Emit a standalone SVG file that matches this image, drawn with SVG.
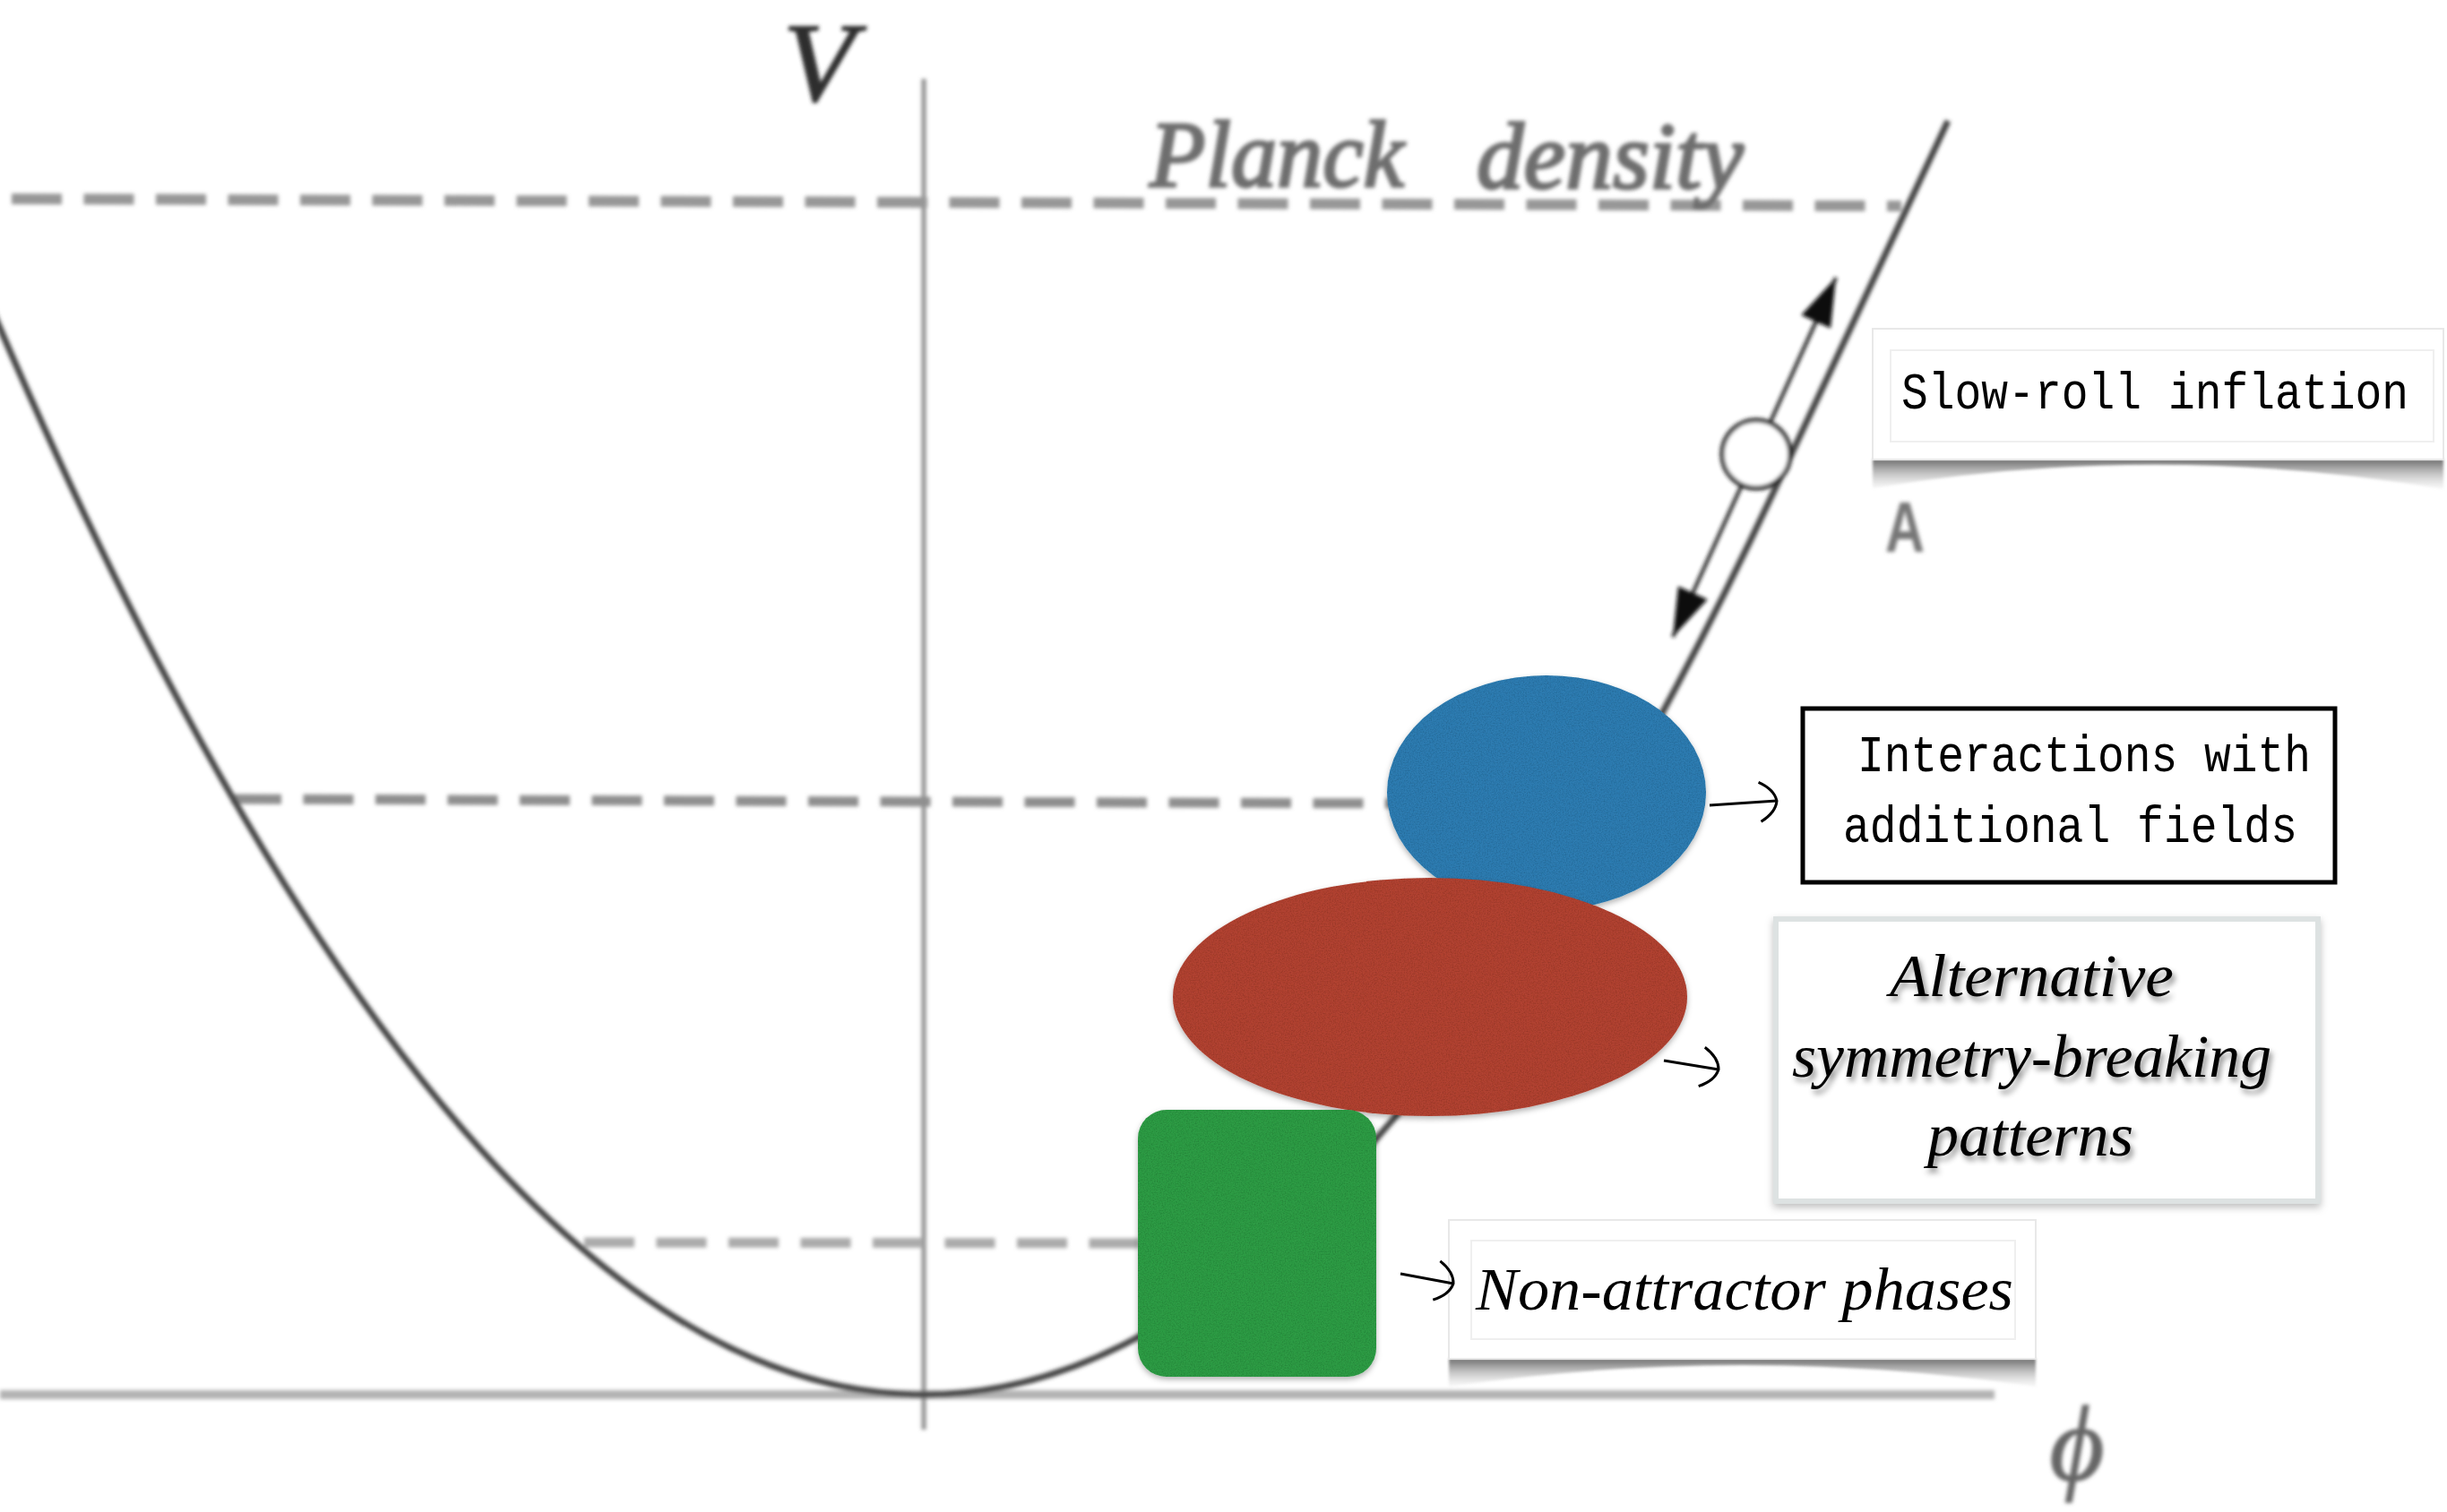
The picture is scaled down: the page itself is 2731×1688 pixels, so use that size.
<svg xmlns="http://www.w3.org/2000/svg" width="2731" height="1688" viewBox="0 0 2731 1688">
<defs>
<style>
.mono{font-family:"Liberation Mono","DejaVu Sans Mono",monospace;font-size:58px;fill:#000}
.cmi{font-family:"Liberation Serif","DejaVu Serif",serif;font-style:italic;font-size:68px;fill:#000}
.gl{font-family:"Liberation Serif","DejaVu Serif",serif;font-style:italic}
.dash{fill:none;stroke-dasharray:56 24.5}
.conn{fill:none;stroke:#000;stroke-width:3;marker-end:url(#lhead)}
.curl{fill:url(#curlg)}
</style>
<filter id="soft" x="-2%" y="-2%" width="104%" height="104%"><feGaussianBlur stdDeviation="2"/></filter>
<filter id="paper" x="-10%" y="-10%" width="120%" height="125%">
<feTurbulence type="fractalNoise" baseFrequency="0.7" numOctaves="3" seed="7" result="noise"/>
<feColorMatrix in="noise" type="matrix" values="0 0 0 0 0  0 0 0 0 0  0 0 0 0 0  0 0 0 0.6 -0.24" result="dark"/>
<feComposite in="dark" in2="SourceAlpha" operator="in" result="tex"/>
<feDropShadow in="SourceGraphic" dx="0" dy="3" stdDeviation="3" flood-color="#000" flood-opacity="0.3" result="sh"/>
<feMerge><feMergeNode in="sh"/><feMergeNode in="tex"/></feMerge>
</filter>
<filter id="tshadow" x="-10%" y="-30%" width="120%" height="160%"><feDropShadow dx="3" dy="5" stdDeviation="3" flood-color="#000" flood-opacity="0.45"/></filter>
<filter id="bshadow" x="-5%" y="-5%" width="110%" height="115%"><feDropShadow dx="0" dy="4" stdDeviation="4" flood-color="#000" flood-opacity="0.25"/></filter>
<filter id="cblur" x="-5%" y="-50%" width="110%" height="200%"><feGaussianBlur stdDeviation="1.5"/></filter>
<linearGradient id="curlg" x1="0" y1="0" x2="0" y2="1"><stop offset="0" stop-color="#555" stop-opacity="0.85"/><stop offset="1" stop-color="#bbb" stop-opacity="0.1"/></linearGradient>
<marker id="lhead" viewBox="-24 -26 30 52" markerWidth="30" markerHeight="52" refX="0" refY="0" markerUnits="userSpaceOnUse" orient="auto" overflow="visible">
<path d="M-19,-22 Q-2,-13 0,0 Q-2,13 -19,22" fill="none" stroke="#000" stroke-width="3"/>
</marker>
<marker id="tri" viewBox="-56 -21 58 42" markerWidth="58" markerHeight="42" refX="0" refY="0" markerUnits="userSpaceOnUse" orient="auto-start-reverse" overflow="visible">
<path d="M0,0 L-54,-18 L-54,18 Z" fill="#111"/>
</marker>
</defs>
<rect width="2731" height="1688" fill="#fff"/>
<g id="plot" filter="url(#soft)">
<line x1="0" y1="1557" x2="2226" y2="1557" stroke="#b3b3b3" stroke-width="10"/>
<line x1="1031" y1="88" x2="1031" y2="1596" stroke="#8e8e8e" stroke-width="5"/>
<line class="dash" x1="13" y1="222" x2="2122" y2="230" stroke="#979797" stroke-width="12"/>
<line class="dash" x1="258" y1="892" x2="1560" y2="897" stroke="#8f8f8f" stroke-width="11"/>
<line class="dash" x1="652" y1="1387" x2="1280" y2="1388" stroke="#ababab" stroke-width="11"/>
<path d="M-20,320 Q505.5,1557 1031,1557 Q1506,1557 1981,546 L2174,135" fill="none" stroke="#454545" stroke-width="7"/>
<text class="gl" x="874" y="112" font-size="124" fill="#2e2e2e" stroke="#2e2e2e" stroke-width="2" textLength="80" lengthAdjust="spacingAndGlyphs">V</text>
<text class="gl" x="1283" y="208" font-size="105" fill="#6e6e6e" stroke="#6e6e6e" stroke-width="3" textLength="284" lengthAdjust="spacingAndGlyphs">Planck</text>
<text class="gl" x="1648" y="210" font-size="105" fill="#6e6e6e" stroke="#6e6e6e" stroke-width="3" textLength="298" lengthAdjust="spacingAndGlyphs">density</text>
<text x="2104" y="616" font-family="Liberation Sans, Arial, sans-serif" font-weight="bold" font-size="80" fill="#777" textLength="44" lengthAdjust="spacingAndGlyphs">A</text>
<text class="gl" x="2318" y="1652" font-size="118" fill="#666" stroke="#666" stroke-width="1.5" text-anchor="middle">ϕ</text>
<line x1="1867" y1="711" x2="2049" y2="310" stroke="#222" stroke-width="4" marker-start="url(#tri)" marker-end="url(#tri)"/>
<circle cx="1960" cy="507" r="38" fill="#fff" stroke="#222" stroke-width="5"/>
</g>
<g id="node-blue"><ellipse cx="1726" cy="885" rx="178" ry="131" fill="#2d7bb1" filter="url(#paper)"/></g>
<g id="node-red"><ellipse cx="1596" cy="1113" rx="287" ry="133" fill="#b14232" filter="url(#paper)"/></g>
<g id="node-green"><rect x="1270" y="1239" width="266" height="298" rx="32" fill="#2e9b44" filter="url(#paper)"/></g>
<g id="box-slowroll">
<path class="curl" d="M2090,513 L2727,513 L2727,546 Q2408,492 2090,545 Z" filter="url(#cblur)"/>
<rect x="2090" y="367" width="637" height="146" fill="#fff" stroke="#e8e8e8" stroke-width="2"/>
<rect x="2110" y="391" width="606" height="102" fill="#fff" stroke="#efefef" stroke-width="2"/>
<text class="mono" x="2122" y="456" font-size="50" textLength="566" lengthAdjust="spacingAndGlyphs">Slow-roll inflation</text>
</g>
<g id="box-interactions">
<rect x="2012" y="791" width="594" height="194" fill="#fff" stroke="#000" stroke-width="5"/>
<text class="mono" x="2073" y="861" textLength="506" lengthAdjust="spacingAndGlyphs">Interactions with</text>
<text class="mono" x="2057" y="940" textLength="507" lengthAdjust="spacingAndGlyphs">additional fields</text>
</g>
<g id="box-alternative">
<rect x="1982" y="1026" width="605" height="315" fill="#fff" stroke="#dde2e2" stroke-width="6" filter="url(#bshadow)"/>
<g filter="url(#tshadow)">
<text class="cmi" x="2109" y="1112" textLength="317" lengthAdjust="spacingAndGlyphs">Alternative</text>
<text class="cmi" x="2000" y="1202" textLength="535" lengthAdjust="spacingAndGlyphs">symmetry-breaking</text>
<text class="cmi" x="2151" y="1290" textLength="230" lengthAdjust="spacingAndGlyphs">patterns</text>
</g>
</g>
<g id="box-nonattractor">
<path class="curl" d="M1617,1517 L2272,1517 L2272,1548 Q1945,1500 1617,1548 Z" filter="url(#cblur)"/>
<rect x="1617" y="1362" width="655" height="155" fill="#fff" stroke="#e8e8e8" stroke-width="2"/>
<rect x="1642" y="1385" width="607" height="110" fill="#fff" stroke="#efefef" stroke-width="2"/>
<text class="cmi" x="1647" y="1462" textLength="600" lengthAdjust="spacingAndGlyphs">Non-attractor phases</text>
</g>
<g id="connectors">
<line class="conn" x1="1908" y1="899" x2="1983" y2="894"/>
<line class="conn" x1="1857" y1="1184" x2="1918" y2="1194"/>
<line class="conn" x1="1563" y1="1422" x2="1622" y2="1433"/>
</g>
</svg>
